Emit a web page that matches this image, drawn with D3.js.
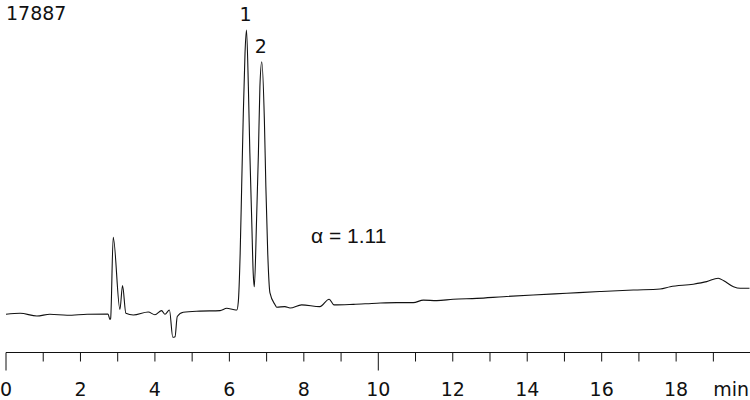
<!DOCTYPE html>
<html>
<head>
<meta charset="utf-8">
<script src="https://cdn.jsdelivr.net/npm/d3@7"></script>
<style>
  body { margin: 0; background: #fff; }
  svg { display: block; }
  .lbl { font-family: "DejaVu Sans", Verdana, sans-serif; font-size: 19px; fill: #111; }
  .alpha { font-family: "Liberation Sans", Arial, sans-serif; font-size: 21px; fill: #111; }
</style>
</head>
<body>
<div id="chart"></div>
<script>
// retention time (min) and detector signal (arbitrary units, peak 1 = 100)
const times = [0, 0.38, 0.83, 1.18, 1.64, 2.18, 2.74, 2.79, 2.81, 2.88, 3.06, 3.13, 3.22, 3.42,
  3.82, 4.00, 4.18, 4.27, 4.39, 4.48, 4.54, 4.60, 4.76, 5.21, 5.75, 5.93, 6.10, 6.20, 6.24,
  6.29, 6.33, 6.37, 6.42, 6.46, 6.51, 6.55, 6.60, 6.64, 6.67, 6.73, 6.78, 6.82, 6.87, 6.94,
  6.98, 7.03, 7.09, 7.23, 7.27, 7.49, 7.63, 7.94, 8.43, 8.68, 8.81, 9.33, 9.96, 10.49, 10.94,
  11.21, 11.57, 12.01, 12.64, 13.36, 14.16, 15.06, 15.95, 16.85, 17.57, 17.84, 18.46, 18.82,
  19.13, 19.28, 19.54, 19.72, 19.97];
const signal = [-0.1, 0.25, -0.7, -0.1, -0.45, -0.1, 0, -1.9, -1.6, 27.0, 1.6, 10.0, 0.25, -0.35,
  0.7, -0.25, 1.2, -0.1, 1.4, -8.2, -8.0, -0.9, 0.6, 1.0, 1.2, 2.0, 1.6, 1.4, 4.3,
  21.5, 44.8, 68.3, 91.9, 100, 80, 56.7, 33.1, 14.4, 9.6, 33.1, 56.7, 80, 88.8, 68.3,
  44.8, 21.5, 7.4, 3.2, 2.4, 2.6, 2.1, 3.2, 2.6, 5.2, 3.2, 3.4, 3.8, 4.0, 4.0,
  4.9, 4.7, 5.2, 5.5, 6.1, 6.7, 7.3, 7.9, 8.45, 8.8, 9.6, 10.5, 11.4,
  12.6, 11.7, 9.6, 9.05, 9.05];
const tickValues = d3.range(0, 20);
const tickLabels = ["0", "2", "4", "6", "8", "10", "12", "14", "16", "18"];
const peakLabels = [{name: "1", t: 6.46, s: 100}, {name: "2", t: 6.87, s: 88.8}];
const sampleId = "17887";
const selectivity = "\u03B1 = 1.11";

const width = 750, height = 400;
const axisY = 352.5;

const svg = d3.select("#chart").append("svg")
  .attr("width", width)
  .attr("height", height);

const x = d3.scaleLinear().domain([0, 20]).range([6, 750.6]);
const y = d3.scaleLinear().domain([0, 100]).range([314, 30]);

const data = times.map((t, i) => ({t: t, s: signal[i]}));

const line = d3.line()
  .x(d => x(d.t))
  .y(d => y(d.s))
  .curve(d3.curveMonotoneX);

svg.append("path")
  .datum(data)
  .attr("d", line)
  .attr("fill", "none")
  .attr("stroke", "#111")
  .attr("stroke-width", 1.1);

// time axis, drawn by hand so ticks at 0 and 10 are longer
const axis = svg.append("g").attr("transform", `translate(0,${axisY})`);
axis.append("line")
  .attr("x1", x(0)).attr("x2", width)
  .attr("stroke", "#111").attr("stroke-width", 1.2);

axis.selectAll(".tick")
  .data(tickValues)
  .enter()
  .append("line")
  .attr("x1", d => x(d)).attr("x2", d => x(d))
  .attr("y1", 0)
  .attr("y2", d => d % 10 == 0 ? 18 : 9)
  .attr("stroke", "#111").attr("stroke-width", 1);

axis.selectAll(".tl")
  .data(tickLabels)
  .enter()
  .append("text")
  .attr("class", "lbl")
  .attr("x", d => Math.max(x(+d), 6))
  .attr("y", 43.5)
  .attr("text-anchor", d => d == "0" ? "start" : "middle")
  .attr("dx", d => d == "0" ? -6 : 0)
  .text(d => d);

axis.append("text")
  .attr("class", "lbl")
  .attr("x", width - 1)
  .attr("y", 43.5)
  .attr("text-anchor", "end")
  .text("min");

svg.append("text")
  .attr("class", "lbl")
  .attr("x", 6)
  .attr("y", 20)
  .text(sampleId);

svg.selectAll(".pk")
  .data(peakLabels)
  .enter()
  .append("text")
  .attr("class", "lbl")
  .attr("x", d => x(d.t) - 1)
  .attr("y", d => y(d.s) - 9)
  .attr("text-anchor", "middle")
  .text(d => d.name);

svg.append("text")
  .attr("class", "alpha")
  .attr("x", 311)
  .attr("y", 243)
  .text(selectivity);
</script>
</body>
</html>
